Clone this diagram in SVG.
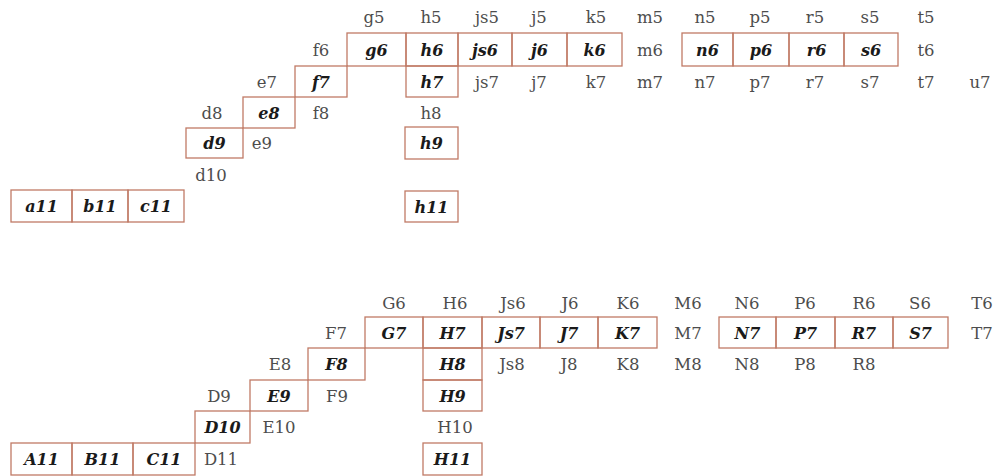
<svg xmlns="http://www.w3.org/2000/svg" width="994" height="476" viewBox="0 0 994 476">
  <style>
    .cell { fill: none; stroke: #c07a66; stroke-width: 1.3; }
    .lbl { font-family: 'DejaVu Serif', serif; font-size: 16.5px; fill: #4d4d4d; text-anchor: middle; }
    .key { font-family: 'DejaVu Serif', serif; font-size: 16px; fill: #1a1a1a; font-weight: bold; font-style: italic; text-anchor: middle; }
  </style>
  <rect width="994" height="476" fill="#fff"/>

  <!-- upper grid: lowercase -->
  <g id="upper">
    <g id="row5-labels">
      <text class="lbl" x="374" y="23">g5</text>
      <text class="lbl" x="431" y="23">h5</text>
      <text class="lbl" x="487" y="23">js5</text>
      <text class="lbl" x="539" y="23">j5</text>
      <text class="lbl" x="596" y="23">k5</text>
      <text class="lbl" x="650" y="23">m5</text>
      <text class="lbl" x="705" y="23">n5</text>
      <text class="lbl" x="760" y="23">p5</text>
      <text class="lbl" x="815" y="23">r5</text>
      <text class="lbl" x="870" y="23">s5</text>
      <text class="lbl" x="926" y="23">t5</text>
    </g>
    <g id="row6-labels">
      <text class="lbl" x="321" y="56">f6</text>
      <text class="lbl" x="650" y="56">m6</text>
      <text class="lbl" x="926" y="56">t6</text>
    </g>
    <g id="row7-labels">
      <text class="lbl" x="267" y="88">e7</text>
      <text class="lbl" x="487" y="88">js7</text>
      <text class="lbl" x="539" y="88">j7</text>
      <text class="lbl" x="596" y="88">k7</text>
      <text class="lbl" x="650" y="88">m7</text>
      <text class="lbl" x="705" y="88">n7</text>
      <text class="lbl" x="760" y="88">p7</text>
      <text class="lbl" x="815" y="88">r7</text>
      <text class="lbl" x="870" y="88">s7</text>
      <text class="lbl" x="926" y="88">t7</text>
      <text class="lbl" x="980" y="88">u7</text>
    </g>
    <g id="row8-labels">
      <text class="lbl" x="212" y="119">d8</text>
      <text class="lbl" x="321" y="119">f8</text>
      <text class="lbl" x="431" y="119">h8</text>
    </g>
    <g id="row9-labels">
      <text class="lbl" x="262" y="149">e9</text>
    </g>
    <g id="row10-labels">
      <text class="lbl" x="211" y="181">d10</text>
    </g>

    <g id="g6"><rect class="cell" x="347" y="33" width="59" height="33"/><text class="key" x="376.5" y="56">g6</text></g>
    <g id="h6"><rect class="cell" x="406" y="33" width="52" height="33"/><text class="key" x="432" y="56">h6</text></g>
    <g id="js6"><rect class="cell" x="458" y="33" width="54" height="33"/><text class="key" x="485" y="56">js6</text></g>
    <g id="j6"><rect class="cell" x="512" y="33" width="55" height="33"/><text class="key" x="539.5" y="56">j6</text></g>
    <g id="k6"><rect class="cell" x="567" y="33" width="55" height="33"/><text class="key" x="594.5" y="56">k6</text></g>
    <g id="n6"><rect class="cell" x="682" y="33" width="51" height="33"/><text class="key" x="707.5" y="56">n6</text></g>
    <g id="p6"><rect class="cell" x="733" y="33" width="56" height="33"/><text class="key" x="761" y="56">p6</text></g>
    <g id="r6"><rect class="cell" x="789" y="33" width="55" height="33"/><text class="key" x="816.5" y="56">r6</text></g>
    <g id="s6"><rect class="cell" x="844" y="33" width="54" height="33"/><text class="key" x="871" y="56">s6</text></g>
    <g id="f7"><rect class="cell" x="295" y="66" width="52" height="31"/><text class="key" x="321" y="88">f7</text></g>
    <g id="h7"><rect class="cell" x="406" y="66" width="52" height="31"/><text class="key" x="432" y="88">h7</text></g>
    <g id="e8"><rect class="cell" x="243" y="97" width="52" height="31"/><text class="key" x="269" y="119">e8</text></g>
    <g id="d9"><rect class="cell" x="186" y="128" width="57" height="30"/><text class="key" x="214.5" y="149">d9</text></g>
    <g id="h9"><rect class="cell" x="405" y="127" width="53" height="32"/><text class="key" x="431.5" y="149">h9</text></g>
    <g id="a11"><rect class="cell" x="11" y="190" width="61" height="32"/><text class="key" x="41.5" y="212">a11</text></g>
    <g id="b11"><rect class="cell" x="72" y="190" width="56" height="32"/><text class="key" x="100" y="212">b11</text></g>
    <g id="c11"><rect class="cell" x="128" y="190" width="56" height="32"/><text class="key" x="156" y="212">c11</text></g>
    <g id="h11"><rect class="cell" x="405" y="191" width="53" height="31"/><text class="key" x="431.5" y="213">h11</text></g>
  </g>

  <!-- lower grid: uppercase -->
  <g id="lower">
    <g id="row6-labels-lower">
      <text class="lbl" x="394" y="309">G6</text>
      <text class="lbl" x="455" y="309">H6</text>
      <text class="lbl" x="513" y="309">Js6</text>
      <text class="lbl" x="570" y="309">J6</text>
      <text class="lbl" x="628" y="309">K6</text>
      <text class="lbl" x="688" y="309">M6</text>
      <text class="lbl" x="747" y="309">N6</text>
      <text class="lbl" x="805" y="309">P6</text>
      <text class="lbl" x="864" y="309">R6</text>
      <text class="lbl" x="920" y="309">S6</text>
      <text class="lbl" x="982" y="309">T6</text>
    </g>
    <g id="row7-labels-lower">
      <text class="lbl" x="336" y="339">F7</text>
      <text class="lbl" x="688" y="339">M7</text>
      <text class="lbl" x="982" y="339">T7</text>
    </g>
    <g id="row8-labels-lower">
      <text class="lbl" x="280" y="370">E8</text>
      <text class="lbl" x="512" y="370">Js8</text>
      <text class="lbl" x="569" y="370">J8</text>
      <text class="lbl" x="628" y="370">K8</text>
      <text class="lbl" x="688" y="370">M8</text>
      <text class="lbl" x="747" y="370">N8</text>
      <text class="lbl" x="805" y="370">P8</text>
      <text class="lbl" x="864" y="370">R8</text>
    </g>
    <g id="row9-labels-lower">
      <text class="lbl" x="219" y="402">D9</text>
      <text class="lbl" x="337" y="402">F9</text>
    </g>
    <g id="row10-labels-lower">
      <text class="lbl" x="279" y="433">E10</text>
      <text class="lbl" x="455" y="433">H10</text>
    </g>
    <g id="row11-labels-lower">
      <text class="lbl" x="221" y="465">D11</text>
    </g>

    <g id="G7"><rect class="cell" x="365" y="317" width="58" height="31"/><text class="key" x="394" y="339">G7</text></g>
    <g id="H7"><rect class="cell" x="423" y="317" width="59" height="31"/><text class="key" x="452.5" y="339">H7</text></g>
    <g id="Js7"><rect class="cell" x="482" y="317" width="58" height="31"/><text class="key" x="511" y="339">Js7</text></g>
    <g id="J7"><rect class="cell" x="540" y="317" width="58" height="31"/><text class="key" x="569" y="339">J7</text></g>
    <g id="K7"><rect class="cell" x="598" y="317" width="59" height="31"/><text class="key" x="627.5" y="339">K7</text></g>
    <g id="N7"><rect class="cell" x="719" y="317" width="57" height="31"/><text class="key" x="747.5" y="339">N7</text></g>
    <g id="P7"><rect class="cell" x="776" y="317" width="59" height="31"/><text class="key" x="805.5" y="339">P7</text></g>
    <g id="R7"><rect class="cell" x="835" y="317" width="58" height="31"/><text class="key" x="864" y="339">R7</text></g>
    <g id="S7"><rect class="cell" x="893" y="317" width="55" height="31"/><text class="key" x="920.5" y="339">S7</text></g>
    <g id="F8"><rect class="cell" x="308" y="348" width="57" height="32"/><text class="key" x="336.5" y="370">F8</text></g>
    <g id="H8"><rect class="cell" x="423" y="348" width="59" height="32"/><text class="key" x="452.5" y="370">H8</text></g>
    <g id="E9"><rect class="cell" x="250" y="380" width="58" height="31"/><text class="key" x="279" y="402">E9</text></g>
    <g id="H9"><rect class="cell" x="423" y="380" width="59" height="31"/><text class="key" x="452.5" y="402">H9</text></g>
    <g id="D10"><rect class="cell" x="195" y="411" width="55" height="32"/><text class="key" x="222.5" y="433">D10</text></g>
    <g id="A11"><rect class="cell" x="11" y="443" width="61" height="32"/><text class="key" x="41.5" y="465">A11</text></g>
    <g id="B11"><rect class="cell" x="72" y="443" width="61" height="32"/><text class="key" x="102.5" y="465">B11</text></g>
    <g id="C11"><rect class="cell" x="133" y="443" width="62" height="32"/><text class="key" x="164" y="465">C11</text></g>
    <g id="H11"><rect class="cell" x="423" y="443" width="59" height="32"/><text class="key" x="452.5" y="465">H11</text></g>
  </g>

  <!-- no connectors in this chart -->
  <g id="connectors"/>
</svg>
